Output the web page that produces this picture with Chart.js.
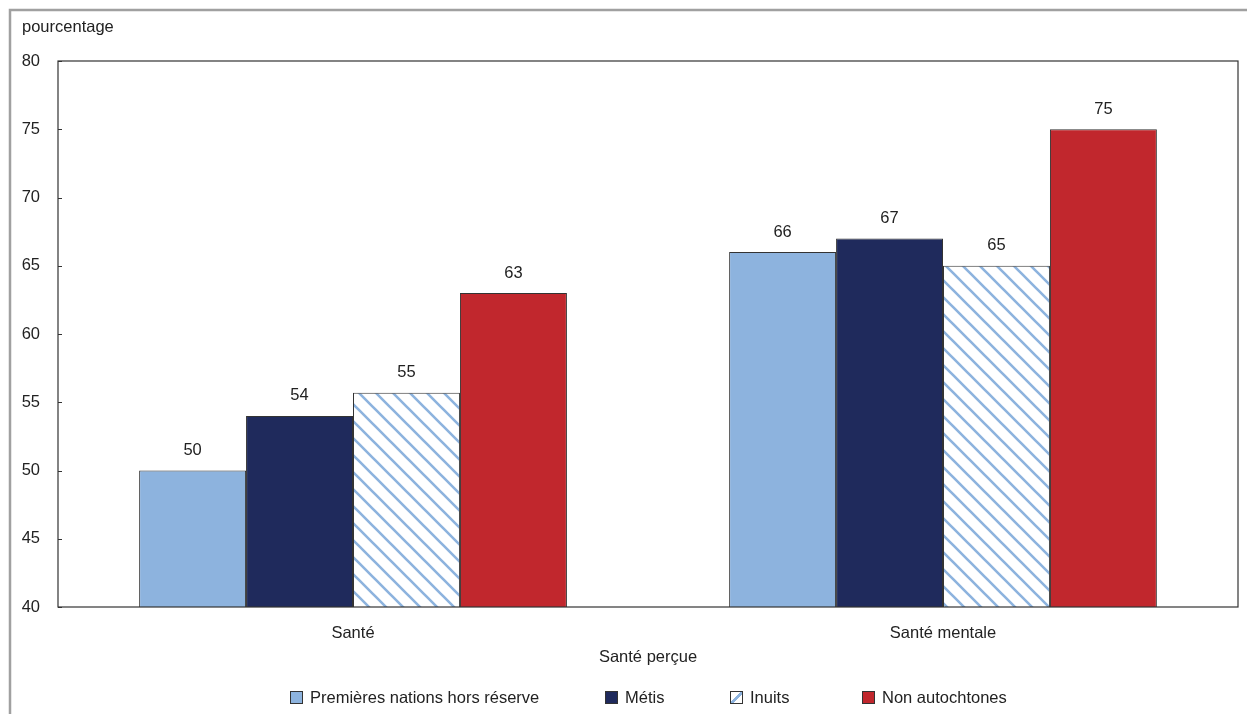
<!DOCTYPE html>
<html>
<head>
<meta charset="utf-8">
<script src="https://cdn.jsdelivr.net/npm/chart.js@4.4.0/dist/chart.umd.min.js"></script>
<style>
    body { margin: 0; background: #fff; }
    #wrap { position: relative; width: 1247px; height: 714px; }
    #legend {
        position: absolute; top: 688px; left: 0; width: 1247px;
        font: 16.5px "Liberation Sans", Arial, sans-serif; color: #222;
    }
    .item { position: absolute; top: 0; white-space: nowrap; }
    .box { display: inline-block; width: 11px; height: 11px; border: 1px solid #333;
           vertical-align: -1px; margin-right: 7px; }
</style>
</head>
<body>
<div id="wrap">
    <canvas id="myChart" width="1247" height="714"></canvas>
    <div id="legend"></div>
</div>
<script>
const categories = ['Santé', 'Santé mentale'];
const seriesNames = ['Premières nations hors réserve', 'Métis', 'Inuits', 'Non autochtones'];
const premieresNations = [50, 66];
const metis = [54, 67];
const inuits = [55.7, 65];
const nonAutochtones = [63, 75];
// the labels printed above the bars
const premieresLabels = ['50', '66'];
const metisLabels = ['54', '67'];
const inuitsLabels = ['55', '65'];
const nonAutochtonesLabels = ['63', '75'];
const yTicks = [40, 45, 50, 55, 60, 65, 70, 75, 80];

const font = '"Liberation Sans", Arial, sans-serif';
const fontSize = 16.5;

function hatch() {
    const s = 17;
    const c = document.createElement('canvas');
    c.width = s; c.height = s;
    const g = c.getContext('2d');
    g.fillStyle = '#fff';
    g.fillRect(0, 0, s, s);
    g.strokeStyle = '#8db3de';
    g.lineWidth = 2.6;
    g.beginPath();
    g.moveTo(-s, -s); g.lineTo(2 * s, 2 * s);
    g.moveTo(-2 * s, -s); g.lineTo(s, 2 * s);
    g.moveTo(0, -s); g.lineTo(3 * s, 2 * s);
    g.stroke();
    return g.createPattern(c, 'repeat');
}

const fills = ['#8db3de', '#1f2a5c', hatch(), '#c1272d'];
const seriesData = [premieresNations, metis, inuits, nonAutochtones];
const seriesLabels = [premieresLabels, metisLabels, inuitsLabels, nonAutochtonesLabels];

const framePlugin = {
    id: 'frame',
    beforeDraw(chart) {
        const ctx = chart.ctx;
        ctx.save();
        ctx.strokeStyle = '#a0a0a0';
        ctx.lineWidth = 2.5;
        ctx.beginPath();
        ctx.moveTo(10, 714);
        ctx.lineTo(10, 10);
        ctx.lineTo(1247, 10);
        ctx.stroke();
        ctx.fillStyle = '#222';
        ctx.font = fontSize + 'px ' + font;
        ctx.textBaseline = 'middle';
        ctx.fillText('pourcentage', 22, 27);
        ctx.restore();
    },
    afterDraw(chart) {
        const ctx = chart.ctx;
        const a = chart.chartArea;
        const y = chart.scales.y;
        ctx.save();
        ctx.strokeStyle = '#333';
        ctx.lineWidth = 1.2;
        ctx.strokeRect(a.left, a.top, a.right - a.left, a.bottom - a.top);
        ctx.beginPath();
        yTicks.forEach(v => {
            const py = Math.round(y.getPixelForValue(v)) + 0.5;
            ctx.moveTo(a.left, py);
            ctx.lineTo(a.left + 4, py);
        });
        ctx.stroke();
        // values above bars
        ctx.fillStyle = '#222';
        ctx.font = fontSize + 'px ' + font;
        ctx.textAlign = 'center';
        ctx.textBaseline = 'middle';
        chart.data.datasets.forEach((ds, i) => {
            chart.getDatasetMeta(i).data.forEach((bar, j) => {
                ctx.fillText(seriesLabels[i][j], bar.x, bar.y - 20);
            });
        });
        ctx.restore();
    }
};

const myChart = new Chart(document.getElementById('myChart'), {
    type: 'bar',
    data: {
        labels: categories,
        datasets: seriesNames.map((name, i) => ({
            label: name,
            data: seriesData[i],
            backgroundColor: fills[i],
            borderColor: '#333',
            borderWidth: 1,
            categoryPercentage: 0.725,
            barPercentage: 1
        }))
    },
    options: {
        responsive: false,
        animation: false,
        layout: { padding: { left: 10, right: 9, top: 61, bottom: 40 } },
        plugins: {
            legend: { display: false },
            tooltip: { enabled: false }
        },
        scales: {
            y: {
                min: 40,
                max: 80,
                afterFit(scale) { scale.width = 48; },
                afterBuildTicks(scale) { scale.ticks = yTicks.map(v => ({ value: v })); },
                grid: { display: false, drawTicks: false },
                border: { display: false },
                ticks: { padding: 18, color: '#222', font: { family: font, size: fontSize } }
            },
            x: {
                afterFit(scale) { scale.height = 67; },
                grid: { display: false, drawTicks: false },
                border: { display: false },
                ticks: { padding: 17, color: '#222', font: { family: font, size: fontSize } },
                title: {
                    display: true,
                    text: 'Santé perçue',
                    color: '#222',
                    font: { family: font, size: fontSize },
                    padding: { top: 4, bottom: 7 }
                }
            }
        }
    },
    plugins: [framePlugin]
});

// legend
const legendX = [290, 605, 730, 862];
const legend = document.getElementById('legend');
seriesNames.forEach((name, i) => {
    const el = document.createElement('span');
    el.className = 'item';
    el.style.left = legendX[i] + 'px';
    const box = document.createElement('span');
    box.className = 'box';
    if (i === 2) {
        box.style.background = 'linear-gradient(135deg, #fff 0 45%, #8db3de 45% 60%, #fff 60%)';
    } else {
        box.style.background = fills[i];
    }
    el.appendChild(box);
    el.appendChild(document.createTextNode(name));
    legend.appendChild(el);
});
</script>
</body>
</html>
